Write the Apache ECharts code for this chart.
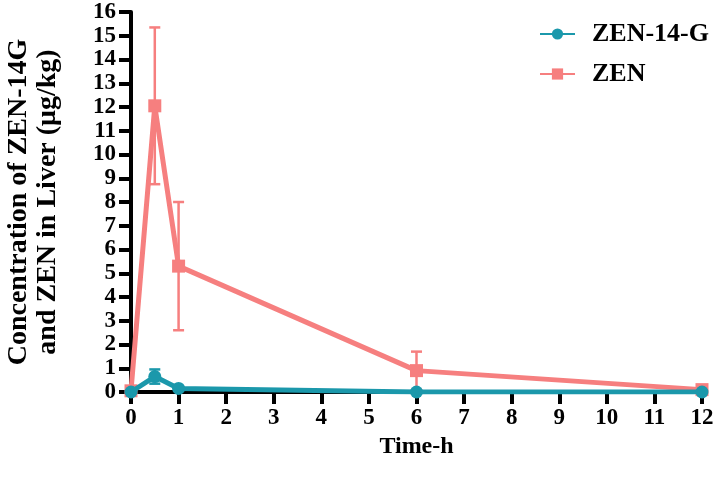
<!DOCTYPE html>
<html>
<head>
<meta charset="utf-8">
<script src="https://cdn.jsdelivr.net/npm/echarts@6/dist/echarts.min.js"></script>
<style>
  html, body { margin: 0; padding: 0; background: #fff; }
  #chart { width: 716px; height: 477px; }
</style>
</head>
<body>
<div id="chart"></div>
<script>
const times = [0, 0.5, 1, 6, 12];

const zenG = [0, 0.65, 0.15, 0, 0];
const zenGErr = [0, 0.3, 0.1, 0, 0];

const zen = [0.05, 12.05, 5.3, 0.9, 0.1];
const zenErr = [0, 3.3, 2.7, 0.8, 0.1];

const TEAL = '#1b98ab';
const PINK = '#f67f7f';
const FONT = '"Liberation Serif", "Times New Roman", serif';

const chart = echarts.init(document.getElementById('chart'));

function errData(vals, errs) {
  return times.map((t, i) => [t, vals[i] - errs[i], vals[i] + errs[i]]);
}

// vertical error bar with caps at both ends
function errBars(color) {
  return function (params, api) {
    const x = api.value(0);
    const lo = api.coord([x, api.value(1)]);
    const hi = api.coord([x, api.value(2)]);
    if (Math.abs(hi[1] - lo[1]) < 1) return null;
    const w = 5.5;
    const style = { stroke: color, lineWidth: 2.5 };
    return {
      type: 'group',
      children: [
        { type: 'line', shape: { x1: lo[0], y1: lo[1], x2: hi[0], y2: hi[1] }, style },
        { type: 'line', shape: { x1: hi[0] - w, y1: hi[1], x2: hi[0] + w, y2: hi[1] }, style },
        { type: 'line', shape: { x1: lo[0] - w, y1: lo[1], x2: lo[0] + w, y2: lo[1] }, style }
      ]
    };
  };
}

function labelStyle(size, margin) {
  return {
    fontFamily: FONT, fontWeight: 'bold', fontSize: size, color: '#000', margin: margin,
    showMinLabel: true, showMaxLabel: true
  };
}

chart.setOption({
  animation: false,
  grid: { left: 131, right: 14, top: 12, bottom: 85, outerBoundsMode: 'none' },
  legend: {
    right: 2,
    top: 16,
    orient: 'vertical',
    itemGap: 14,
    itemWidth: 35,
    itemHeight: 14,
    data: ['ZEN-14-G', 'ZEN'],
    textStyle: { fontFamily: FONT, fontWeight: 'bold', fontSize: 26, color: '#000', padding: [0, 0, 0, 12] }
  },
  xAxis: {
    type: 'value',
    min: 0,
    max: 12,
    interval: 1,
    name: 'Time-h',
    nameLocation: 'middle',
    nameGap: 39,
    nameTextStyle: { fontFamily: FONT, fontWeight: 'bold', fontSize: 24, color: '#000' },
    splitLine: { show: false },
    axisLine: { show: true, onZero: false, lineStyle: { color: '#000', width: 4 } },
    axisTick: { show: true, inside: false, length: 12, lineStyle: { color: '#000', width: 4 } },
    axisLabel: labelStyle(23, 15)
  },
  yAxis: {
    type: 'value',
    min: 0,
    max: 16,
    interval: 1,
    name: 'Concentration of ZEN-14G\nand ZEN in Liver (μg/kg)',
    nameLocation: 'middle',
    nameRotate: 90,
    nameGap: 69,
    nameTextStyle: { fontFamily: FONT, fontWeight: 'bold', fontSize: 28, color: '#000', lineHeight: 29 },
    splitLine: { show: false },
    axisLine: { show: true, onZero: false, lineStyle: { color: '#000', width: 4 } },
    axisTick: { show: true, inside: false, length: 12, lineStyle: { color: '#000', width: 4 } },
    axisLabel: labelStyle(23, 15)
  },
  series: [
    {
      name: 'ZEN-err',
      type: 'custom',
      renderItem: errBars(PINK),
      data: errData(zen, zenErr),
      z: 2,
      silent: true
    },
    {
      name: 'ZEN',
      type: 'line',
      data: times.map((t, i) => [t, zen[i]]),
      symbol: 'rect',
      symbolSize: 13,
      itemStyle: { color: PINK },
      lineStyle: { color: PINK, width: 5 },
      z: 3
    },
    {
      name: 'ZEN-14-G-err',
      type: 'custom',
      renderItem: errBars(TEAL),
      data: errData(zenG, zenGErr),
      z: 4,
      silent: true
    },
    {
      name: 'ZEN-14-G',
      type: 'line',
      data: times.map((t, i) => [t, zenG[i]]),
      symbol: 'circle',
      symbolSize: 13,
      itemStyle: { color: TEAL },
      lineStyle: { color: TEAL, width: 5 },
      z: 5
    }
  ]
});
</script>
</body>
</html>
